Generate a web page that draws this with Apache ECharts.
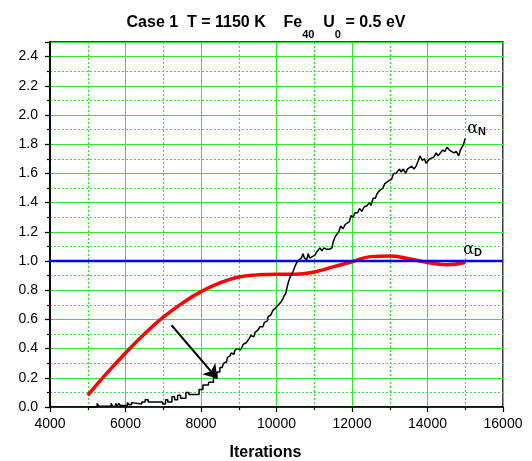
<!DOCTYPE html>
<html>
<head>
<meta charset="utf-8">
<script src="https://cdn.jsdelivr.net/npm/echarts@6/dist/echarts.min.js"></script>
<style>
  html, body { margin: 0; padding: 0; background: #fff; }
  #chart { width: 532px; height: 461px; }
</style>
</head>
<body>
<div id="chart"></div>
<script>
// alpha_D (red, smooth)
const alphaDX = [5000, 5500, 6000, 6500, 7000, 7500, 8000, 8500, 9000, 9500, 10000,
  10500, 11000, 11500, 12000, 12500, 13000, 13500, 14000, 14500, 15000];
const alphaDY = [0.08, 0.23, 0.37, 0.50, 0.615, 0.71, 0.79, 0.85, 0.89, 0.905, 0.91,
  0.91, 0.925, 0.96, 0.995, 1.03, 1.035, 1.015, 0.99, 0.975, 0.99];

// reference level (blue)
const refX = [4000, 16000];
const refY = [1.0, 1.0];

// alpha_N (black, noisy staircase)
const alphaN = [
  [5000, 0], [5250, 0], [5250, 0.025], [5290, 0.025], [5290, 0.005], [5620, 0.005],
  [5620, 0.025], [5660, 0.005], [5740, 0.005], [5740, 0.025], [5780, 0.005], [5820, 0.005],
  [5820, 0.025], [5860, 0.01], [6050, 0.01], [6050, 0.03], [6100, 0.015], [6160, 0.015],
  [6160, 0.03], [6200, 0.02], [6430, 0.02], [6430, 0.035], [6520, 0.035], [6520, 0.05],
  [6600, 0.05], [6600, 0.035], [6980, 0.035], [6980, 0.02], [7060, 0.02], [7060, 0.05],
  [7120, 0.05], [7120, 0.035], [7230, 0.035], [7230, 0.07], [7300, 0.07], [7300, 0.05],
  [7380, 0.05], [7380, 0.08], [7460, 0.08], [7460, 0.06], [7600, 0.06], [7600, 0.1],
  [7680, 0.1], [7680, 0.085], [7950, 0.085], [7950, 0.12], [8050, 0.12], [8050, 0.15],
  [8200, 0.15], [8200, 0.17], [8330, 0.17], [8330, 0.2], [8420, 0.2], [8420, 0.24],
  [8500, 0.24], [8500, 0.27], [8560, 0.27], [8600, 0.3], [8680, 0.31], [8700, 0.34],
  [8770, 0.35], [8800, 0.37], [8870, 0.36], [8900, 0.39], [8960, 0.4], [9050, 0.39],
  [9100, 0.39], [9120, 0.43], [9200, 0.44], [9280, 0.47], [9320, 0.49], [9400, 0.48],
  [9430, 0.51], [9520, 0.53], [9560, 0.55], [9640, 0.55], [9680, 0.58], [9760, 0.59],
  [9780, 0.62], [9850, 0.63], [9900, 0.66], [9980, 0.68], [10050, 0.70], [10120, 0.72],
  [10170, 0.74], [10200, 0.76], [10250, 0.78], [10280, 0.82], [10320, 0.86], [10360, 0.89],
  [10400, 0.88], [10440, 0.93], [10500, 0.97], [10540, 0.99], [10600, 1.01], [10660, 1.02],
  [10700, 1.05], [10740, 1.02], [10800, 1.01], [10840, 1.05], [10880, 1.02], [10950, 1.03],
  [11020, 1.04], [11060, 1.06], [11100, 1.06], [11150, 1.09], [11200, 1.07], [11260, 1.09],
  [11330, 1.08], [11400, 1.08], [11470, 1.09], [11500, 1.13], [11560, 1.17], [11600, 1.18],
  [11650, 1.2], [11700, 1.24], [11760, 1.22], [11820, 1.25], [11870, 1.26], [11930, 1.27],
  [11970, 1.31], [12030, 1.3], [12080, 1.33], [12150, 1.33], [12200, 1.36], [12260, 1.34],
  [12320, 1.37], [12400, 1.38], [12460, 1.4], [12500, 1.38], [12560, 1.43], [12620, 1.43],
  [12660, 1.46], [12720, 1.48], [12770, 1.48], [12820, 1.5], [12870, 1.53], [12920, 1.52],
  [12980, 1.55], [13050, 1.56], [13100, 1.6], [13160, 1.6], [13200, 1.59], [13260, 1.63],
  [13300, 1.61], [13360, 1.63], [13420, 1.6], [13470, 1.63], [13520, 1.62], [13580, 1.65],
  [13640, 1.63], [13700, 1.65], [13760, 1.69], [13800, 1.72], [13860, 1.69], [13920, 1.7],
  [13960, 1.67], [14010, 1.66], [14060, 1.7], [14110, 1.69], [14160, 1.71], [14230, 1.74],
  [14280, 1.72], [14340, 1.74], [14400, 1.76], [14460, 1.75], [14520, 1.78], [14580, 1.76],
  [14630, 1.77], [14700, 1.74], [14760, 1.75], [14830, 1.72], [14870, 1.76], [14940, 1.79],
  [15000, 1.84]
];

// arrow annotation (data coords)
const arrowFrom = [7220, 0.56];
const arrowTo = [8430, 0.195];

const font = 'Liberation Sans, Arial, sans-serif';
const green = '#2ee82e';

const chart = echarts.init(document.getElementById('chart'));

chart.setOption({
  animation: false,
  backgroundColor: '#fff',
  title: {
    left: 'center',
    top: 1,
    text: '{b|Case 1  T = 1150 K    Fe}{s|40}{b|  U}{s|0}{b| = 0.5 eV}',
    textStyle: {
      rich: {
        b: { fontFamily: font, fontWeight: 'bold', fontSize: 16, lineHeight: 34, color: '#000' },
        s: { fontFamily: font, fontWeight: 'bold', fontSize: 11, lineHeight: 10, verticalAlign: 'bottom', color: '#000' }
      }
    }
  },
  grid: {
    left: 50, right: 29, top: 42, bottom: 54,
    outerBoundsMode: 'none',
    show: true, borderColor: '#000', borderWidth: 1.5
  },
  xAxis: {
    type: 'value',
    min: 4000, max: 16000, interval: 2000,
    name: 'Iterations',
    nameLocation: 'middle',
    nameGap: 38,
    nameTextStyle: { fontFamily: font, fontWeight: 'bold', fontSize: 16, color: '#000', padding: [0, 22, 0, 0] },
    axisLine: { lineStyle: { color: '#000', width: 1.5 } },
    axisTick: { length: 5, lineStyle: { color: '#000', width: 1.2 } },
    minorTick: { show: true, splitNumber: 2, length: 3, lineStyle: { color: '#000', width: 1.2 } },
    axisLabel: { fontFamily: font, fontSize: 14, color: '#000', margin: 10, formatter: v => String(v) },
    splitLine: { show: true, lineStyle: { color: green, width: 1 } },
    minorSplitLine: { show: true, lineStyle: { color: green, width: 1, type: [2, 2] } }
  },
  yAxis: [
    {
      // minor grid (0.1 steps)
      type: 'value', position: 'left',
      min: 0, max: 2.5, interval: 0.1,
      axisLine: { show: true, lineStyle: { color: '#000', width: 1.5 } },
      axisTick: { show: true, length: 3, lineStyle: { color: '#000', width: 1.2 } },
      axisLabel: { show: false },
      splitLine: { show: true, lineStyle: { color: green, width: 1, type: [2, 2] } }
    },
    {
      // major ticks + labels (0.2 steps)
      type: 'value', position: 'left', offset: 0,
      min: 0, max: 2.5, interval: 0.2,
      axisLine: { show: true, lineStyle: { color: '#000', width: 1.5 } },
      axisTick: { show: true, length: 5, lineStyle: { color: '#000', width: 1.2 } },
      axisLabel: {
        fontFamily: font, fontSize: 14, color: '#000', margin: 12,
        formatter: v => (v > 2.45 ? '' : v.toFixed(1))
      },
      splitLine: { show: true, lineStyle: { color: green, width: 1 } }
    }
  ],
  series: [
    {
      name: 'alphaD',
      type: 'line',
      smooth: true,
      showSymbol: false,
      data: alphaDX.map((x, i) => [x, alphaDY[i]]),
      lineStyle: { color: '#ff0000', width: 3.5 },
      endLabel: {
        show: true,
        offset: [-10, -13],
        formatter: '{a|α}{s|D}',
        rich: {
          a: { fontFamily: 'DejaVu Serif, serif', fontSize: 16, color: '#000', lineHeight: 18 },
          s: { fontFamily: font, fontWeight: 'bold', fontSize: 11, color: '#000', lineHeight: 10, verticalAlign: 'bottom' }
        }
      },
      z: 3
    },
    {
      name: 'ref',
      type: 'line',
      showSymbol: false,
      data: refX.map((x, i) => [x, refY[i]]),
      lineStyle: { color: '#0000ff', width: 2.5 },
      z: 4
    },
    {
      name: 'alphaN',
      type: 'line',
      showSymbol: false,
      data: alphaN,
      lineStyle: { color: '#000', width: 1.5 },
      endLabel: {
        show: true,
        offset: [-6, -10],
        formatter: '{a|α}{s|N}',
        rich: {
          a: { fontFamily: 'DejaVu Serif, serif', fontSize: 16, color: '#000', lineHeight: 18 },
          s: { fontFamily: font, fontWeight: 'bold', fontSize: 11, color: '#000', lineHeight: 10, verticalAlign: 'bottom' }
        }
      },
      markLine: {
        silent: true,
        symbol: ['none', 'arrow'],
        symbolSize: 13,
        label: { show: false },
        emphasis: { disabled: true },
        lineStyle: { color: '#000', width: 2, type: 'solid' },
        data: [[{ coord: arrowFrom }, { coord: arrowTo }]]
      },
      z: 5
    }
  ]
});
</script>
</body>
</html>
